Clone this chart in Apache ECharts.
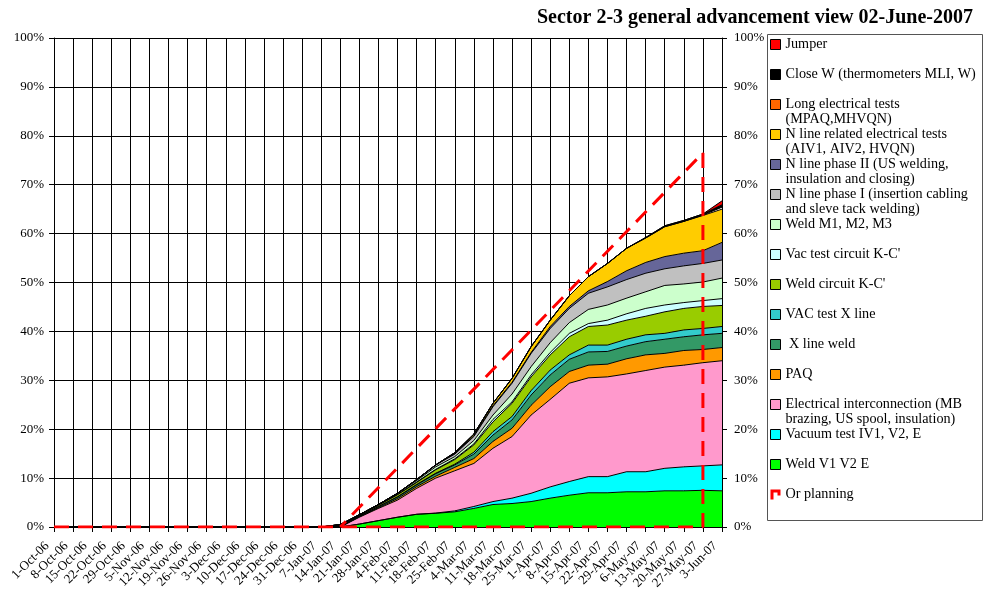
<!DOCTYPE html>
<html>
<head>
<meta charset="utf-8">
<script src="https://cdn.jsdelivr.net/npm/echarts@6/dist/echarts.min.js"></script>
<style>
  html, body { margin: 0; padding: 0; background: #fff; }
  #chart { width: 985px; height: 613px; }
</style>
</head>
<body>
<div id="chart"></div>
<script>
const categories = ['1-Oct-06', '8-Oct-06', '15-Oct-06', '22-Oct-06', '29-Oct-06', '5-Nov-06', '12-Nov-06',
  '19-Nov-06', '26-Nov-06', '3-Dec-06', '10-Dec-06', '17-Dec-06', '24-Dec-06', '31-Dec-06', '7-Jan-07',
  '14-Jan-07', '21-Jan-07', '28-Jan-07', '4-Feb-07', '11-Feb-07', '18-Feb-07', '25-Feb-07', '4-Mar-07',
  '11-Mar-07', '18-Mar-07', '25-Mar-07', '1-Apr-07', '8-Apr-07', '15-Apr-07', '22-Apr-07', '29-Apr-07',
  '6-May-07', '13-May-07', '20-May-07', '27-May-07', '3-Jun-07'];

// stacked series, bottom to top (percent of sector work)
const weldV = [0,0,0,0,0,0,0,0,0,0,0,0,0,0,0,
  0, 0.6, 1.3, 2.0, 2.6, 2.8, 3.1, 3.8, 4.6, 4.8, 5.2, 5.9, 6.5, 7.0, 7.0, 7.2, 7.2, 7.4, 7.4, 7.5, 7.4];
const vacTest = [0,0,0,0,0,0,0,0,0,0,0,0,0,0,0,
  0, 0, 0, 0, 0, 0.05, 0.2, 0.4, 0.6, 1.1, 1.7, 2.3, 2.8, 3.3, 3.3, 4.1, 4.1, 4.6, 4.9, 5.0, 5.3];
const elecInter = [0,0,0,0,0,0,0,0,0,0,0,0,0,0,0,
  0, 1.4, 2.5, 3.5, 5.3, 7.15, 8.2, 8.8, 10.9, 12.6, 16.0, 17.9, 20.1, 20.2, 20.4, 20.0, 20.7, 20.7, 20.8, 21.1, 21.3];
const paq = [0,0,0,0,0,0,0,0,0,0,0,0,0,0,0,
  0, 0.1, 0.15, 0.3, 0.35, 0.4, 0.7, 1.0, 1.4, 1.7, 2.0, 2.6, 2.4, 2.6, 2.6, 3.1, 3.2, 2.8, 3.0, 2.7, 2.7];
const xLineWeld = [0,0,0,0,0,0,0,0,0,0,0,0,0,0,0,
  0.2, 0.1, 0.2, 0.3, 0.35, 0.5, 0.5, 0.9, 1.3, 1.7, 2.1, 2.4, 2.5, 2.7, 2.6, 2.6, 2.7, 2.9, 2.8, 3.0, 2.9];
const vacXLine = [0,0,0,0,0,0,0,0,0,0,0,0,0,0,0,
  0, 0, 0.05, 0.1, 0.1, 0.1, 0.15, 0.4, 0.7, 0.7, 0.9, 1.0, 0.9, 1.4, 1.3, 1.4, 1.4, 1.2, 1.4, 1.3, 1.4];
const weldKC = [0,0,0,0,0,0,0,0,0,0,0,0,0,0,0,
  0.2, 0.2, 0.25, 0.4, 0.4, 0.7, 0.95, 1.5, 2.0, 2.7, 2.8, 3.1, 3.7, 3.8, 4.1, 3.9, 3.8, 4.4, 4.4, 4.5, 4.3];
const vacKC = [0,0,0,0,0,0,0,0,0,0,0,0,0,0,0,
  0, 0, 0.05, 0.05, 0.1, 0.1, 0.15, 0.2, 0.5, 0.3, 0.4, 0.5, 0.7, 0.6, 1.0, 1.3, 1.6, 1.4, 1.2, 1.2, 1.4];
const weldM = [0,0,0,0,0,0,0,0,0,0,0,0,0,0,0,
  0.1, 0.1, 0.1, 0.2, 0.3, 0.5, 0.45, 0.7, 0.9, 1.6, 1.7, 2.0, 2.2, 2.9, 3.1, 3.2, 3.4, 4.0, 3.8, 3.8, 4.2];
const nPhase1 = [0,0,0,0,0,0,0,0,0,0,0,0,0,0,0,
  0, 0, 0, 0.05, 0.2, 0.4, 0.5, 0.8, 1.7, 2.2, 2.7, 2.9, 2.9, 3.3, 3.7, 3.8, 3.8, 3.4, 3.7, 3.8, 3.7];
const nPhase2 = [0,0,0,0,0,0,0,0,0,0,0,0,0,0,0,
  0, 0, 0, 0, 0, 0, 0.1, 0.2, 0.2, 0.2, 0.2, 0.4, 0.4, 0.5, 1.1, 1.8, 2.2, 2.5, 2.6, 2.6, 3.6];
const nElecTests = [0,0,0,0,0,0,0,0,0,0,0,0,0,0,0,
  0, 0, 0, 0, 0, 0, 0.2, 0.3, 0.5, 0.8, 1.2, 1.3, 2.2, 2.9, 3.7, 4.6, 5.0, 6.1, 6.5, 7.2, 6.8];
const longElec = [0,0,0,0,0,0,0,0,0,0,0,0,0,0,0,
  0, 0, 0, 0, 0, 0, 0, 0, 0, 0, 0, 0, 0, 0, 0, 0, 0, 0, 0, 0.1, 0.4];
const closeW = [0,0,0,0,0,0,0,0,0,0,0,0,0,0,0,
  0, 0, 0, 0, 0, 0, 0, 0, 0, 0, 0, 0, 0, 0, 0, 0, 0.1, 0.2, 0.2, 0.2, 0.5];
const jumper = [0,0,0,0,0,0,0,0,0,0,0,0,0,0,0,
  0, 0, 0, 0, 0, 0, 0, 0, 0, 0, 0, 0, 0, 0, 0, 0, 0, 0, 0, 0, 0.8];

// planning outline
const planDates = ['1-Oct-06', '27-May-07', '27-May-07', '14-Jan-07'];
const planValues = [0, 0, 76.5, 0];

const yTicks = [0, 10, 20, 30, 40, 50, 60, 70, 80, 90, 100];

const FONT = 'Liberation Serif';

const stackDefs = [
  { name: 'Weld V1 V2 E', data: weldV, color: '#00FF00' },
  { name: 'Vacuum test IV1, V2, E', data: vacTest, color: '#00FFFF' },
  { name: 'Electrical interconnection (MB\nbrazing, US spool, insulation)', data: elecInter, color: '#FF99CC' },
  { name: 'PAQ', data: paq, color: '#FF9900' },
  { name: ' X line weld', data: xLineWeld, color: '#339966' },
  { name: 'VAC test X line', data: vacXLine, color: '#33CCCC' },
  { name: "Weld circuit K-C'", data: weldKC, color: '#99CC00' },
  { name: "Vac test circuit K-C'", data: vacKC, color: '#CCFFFF' },
  { name: 'Weld M1, M2, M3', data: weldM, color: '#CCFFCC' },
  { name: 'N line phase I (insertion cabling\nand sleve tack welding)', data: nPhase1, color: '#C0C0C0' },
  { name: 'N line phase II (US welding,\ninsulation and closing)', data: nPhase2, color: '#666699' },
  { name: 'N line related electrical tests\n(AIV1, AIV2, HVQN)', data: nElecTests, color: '#FFCC00' },
  { name: 'Long electrical tests\n(MPAQ,MHVQN)', data: longElec, color: '#FF6600' },
  { name: 'Close W (thermometers MLI, W)', data: closeW, color: '#000000' },
  { name: 'Jumper', data: jumper, color: '#FF0000' }
];

const chart = echarts.init(document.getElementById('chart'));

const series = stackDefs.map(d => ({
  name: d.name,
  type: 'line',
  stack: 'total',
  data: d.data,
  color: d.color,
  symbol: 'none',
  lineStyle: { color: '#000', width: 1 },
  areaStyle: { color: d.color, opacity: 1 },
  emphasis: { disabled: true }
}));

series.push({
  name: 'Or planning',
  type: 'line',
  data: planDates.map((d, i) => [d, planValues[i]]),
  color: '#FF0000',
  symbol: 'none',
  z: 10,
  lineStyle: { color: '#FF0000', width: 3, type: [15, 9] },
  emphasis: { disabled: true }
});

const legendData = stackDefs.slice().reverse().map(d => ({ name: d.name }));
legendData.push({
  name: 'Or planning',
  icon: 'path://M0,0H10V6H7V3H3V10H0Z',
  itemStyle: { color: '#FF0000', borderWidth: 0 }
});

const option = {
  animation: false,
  title: {
    text: 'Sector 2-3 general advancement view 02-June-2007',
    right: 7,
    top: 3,
    textStyle: { fontFamily: FONT, fontSize: 20, fontWeight: 'bold', color: '#000' }
  },
  grid: { left: 54, right: 263, top: 38, bottom: 86 },
  legend: {
    orient: 'vertical',
    left: 770,
    top: 22,
    padding: 0,
    itemGap: -15,
    itemWidth: 10,
    itemHeight: 10,
    icon: 'rect',
    selectedMode: false,
    itemStyle: { borderColor: '#000', borderWidth: 1 },
    textStyle: { fontFamily: FONT, fontSize: 14.2, lineHeight: 15, color: '#000' },
    // three text rows per item so the first label row sits level with the icon
    formatter: name => ' \n' + name + (name.indexOf('\n') >= 0 ? '' : '\n '),
    data: legendData
  },
  graphic: [{
    type: 'rect',
    shape: { x: 767.5, y: 34.5, width: 215, height: 486 },
    style: { fill: 'none', stroke: '#555', lineWidth: 1 },
    z: 0
  }],
  xAxis: {
    type: 'category',
    data: categories,
    boundaryGap: false,
    axisLine: { lineStyle: { color: '#000' } },
    axisTick: { show: true, interval: 0, length: 5, lineStyle: { color: '#000' } },
    axisLabel: {
      interval: 0, rotate: 45, fontFamily: FONT, fontSize: 13, color: '#000', margin: 10,
      formatter: v => v + '   '
    },
    splitLine: { show: true, interval: 0, lineStyle: { color: '#000', width: 1 } }
  },
  yAxis: [{
    type: 'value',
    min: yTicks[0],
    max: yTicks[yTicks.length - 1],
    interval: 10,
    position: 'left',
    axisLine: { show: true, lineStyle: { color: '#000' } },
    axisTick: { show: true, length: 5, lineStyle: { color: '#000' } },
    axisLabel: { formatter: '{value}%', fontFamily: FONT, fontSize: 13, color: '#000', margin: 10 },
    splitLine: { show: true, lineStyle: { color: '#000', width: 1 } }
  }, {
    type: 'value',
    min: yTicks[0],
    max: yTicks[yTicks.length - 1],
    interval: 10,
    position: 'right',
    axisLine: { show: true, lineStyle: { color: '#000' } },
    axisTick: { show: true, length: 5, lineStyle: { color: '#000' } },
    axisLabel: { formatter: '{value}%', fontFamily: FONT, fontSize: 13, color: '#000', margin: 12 },
    splitLine: { show: false }
  }],
  series: series
};

chart.setOption(option);
</script>
</body>
</html>
